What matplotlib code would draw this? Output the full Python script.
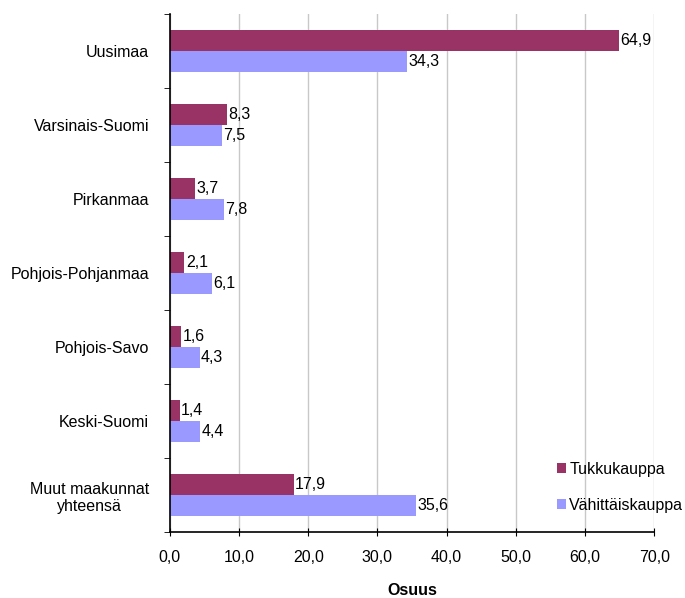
import numpy as np
import matplotlib.pyplot as plt

plt.rcParams['font.family'] = ['Liberation Sans', 'DejaVu Sans']

categories = ["Uusimaa", "Varsinais-Suomi", "Pirkanmaa", "Pohjois-Pohjanmaa",
              "Pohjois-Savo", "Keski-Suomi", "Muut maakunnat\nyhteensä"]
tukku = [64.9, 8.3, 3.7, 2.1, 1.6, 1.4, 17.9]
vahittais = [34.3, 7.5, 7.8, 6.1, 4.3, 4.4, 35.6]

fs = 11.5

fig = plt.figure(figsize=(6.85, 5.98), dpi=100)
ax = fig.add_axes([0.248, 0.110, 0.707, 0.867])

y = np.arange(len(categories))
h = 0.28
b1 = ax.barh(y - h / 2, tukku, height=h, color='#993366', label='Tukkukauppa')
b2 = ax.barh(y + h / 2, vahittais, height=h, color='#9999FF', label='Vähittäiskauppa')

for bars, vals in ((b1, tukku), (b2, vahittais)):
    for bar, v in zip(bars, vals):
        ax.text(bar.get_width() + 0.2, bar.get_y() + bar.get_height() / 2,
                f"{v:.1f}".replace('.', ','), va='center', ha='left', fontsize=fs)

ax.set_xlim(0, 70)
ax.set_ylim(len(categories) - 0.5, -0.5)
ax.set_xticks(np.arange(0, 71, 10))
ax.set_xticklabels([f"{v:.1f}".replace('.', ',') for v in np.arange(0, 71, 10)], fontsize=fs)
ax.set_yticks(y)
ax.set_yticklabels(categories, fontsize=fs, multialignment='center')
ax.tick_params(axis='y', length=0, pad=15)
ax.set_yticks(np.arange(-0.5, len(categories)), minor=True)
ax.tick_params(axis='y', which='minor', length=4, direction='out')
ax.tick_params(axis='x', length=6, direction='inout', pad=10)

ax.xaxis.grid(True, color='#C8C8C8', linewidth=1)
ax.set_axisbelow(True)
for s in ('top', 'right'):
    ax.spines[s].set_visible(False)
ax.spines['left'].set_linewidth(1.2)
ax.spines['bottom'].set_linewidth(1.2)

ax.set_xlabel('Osuus', fontsize=fs, fontweight='bold', labelpad=13)

leg = ax.legend(loc='lower right', bbox_to_anchor=(1.09, 0.01), frameon=False,
                fontsize=fs, handlelength=0.6, handleheight=0.6, handletextpad=0.2,
                labelspacing=1.3)

fig.savefig('out.png', dpi=100)
